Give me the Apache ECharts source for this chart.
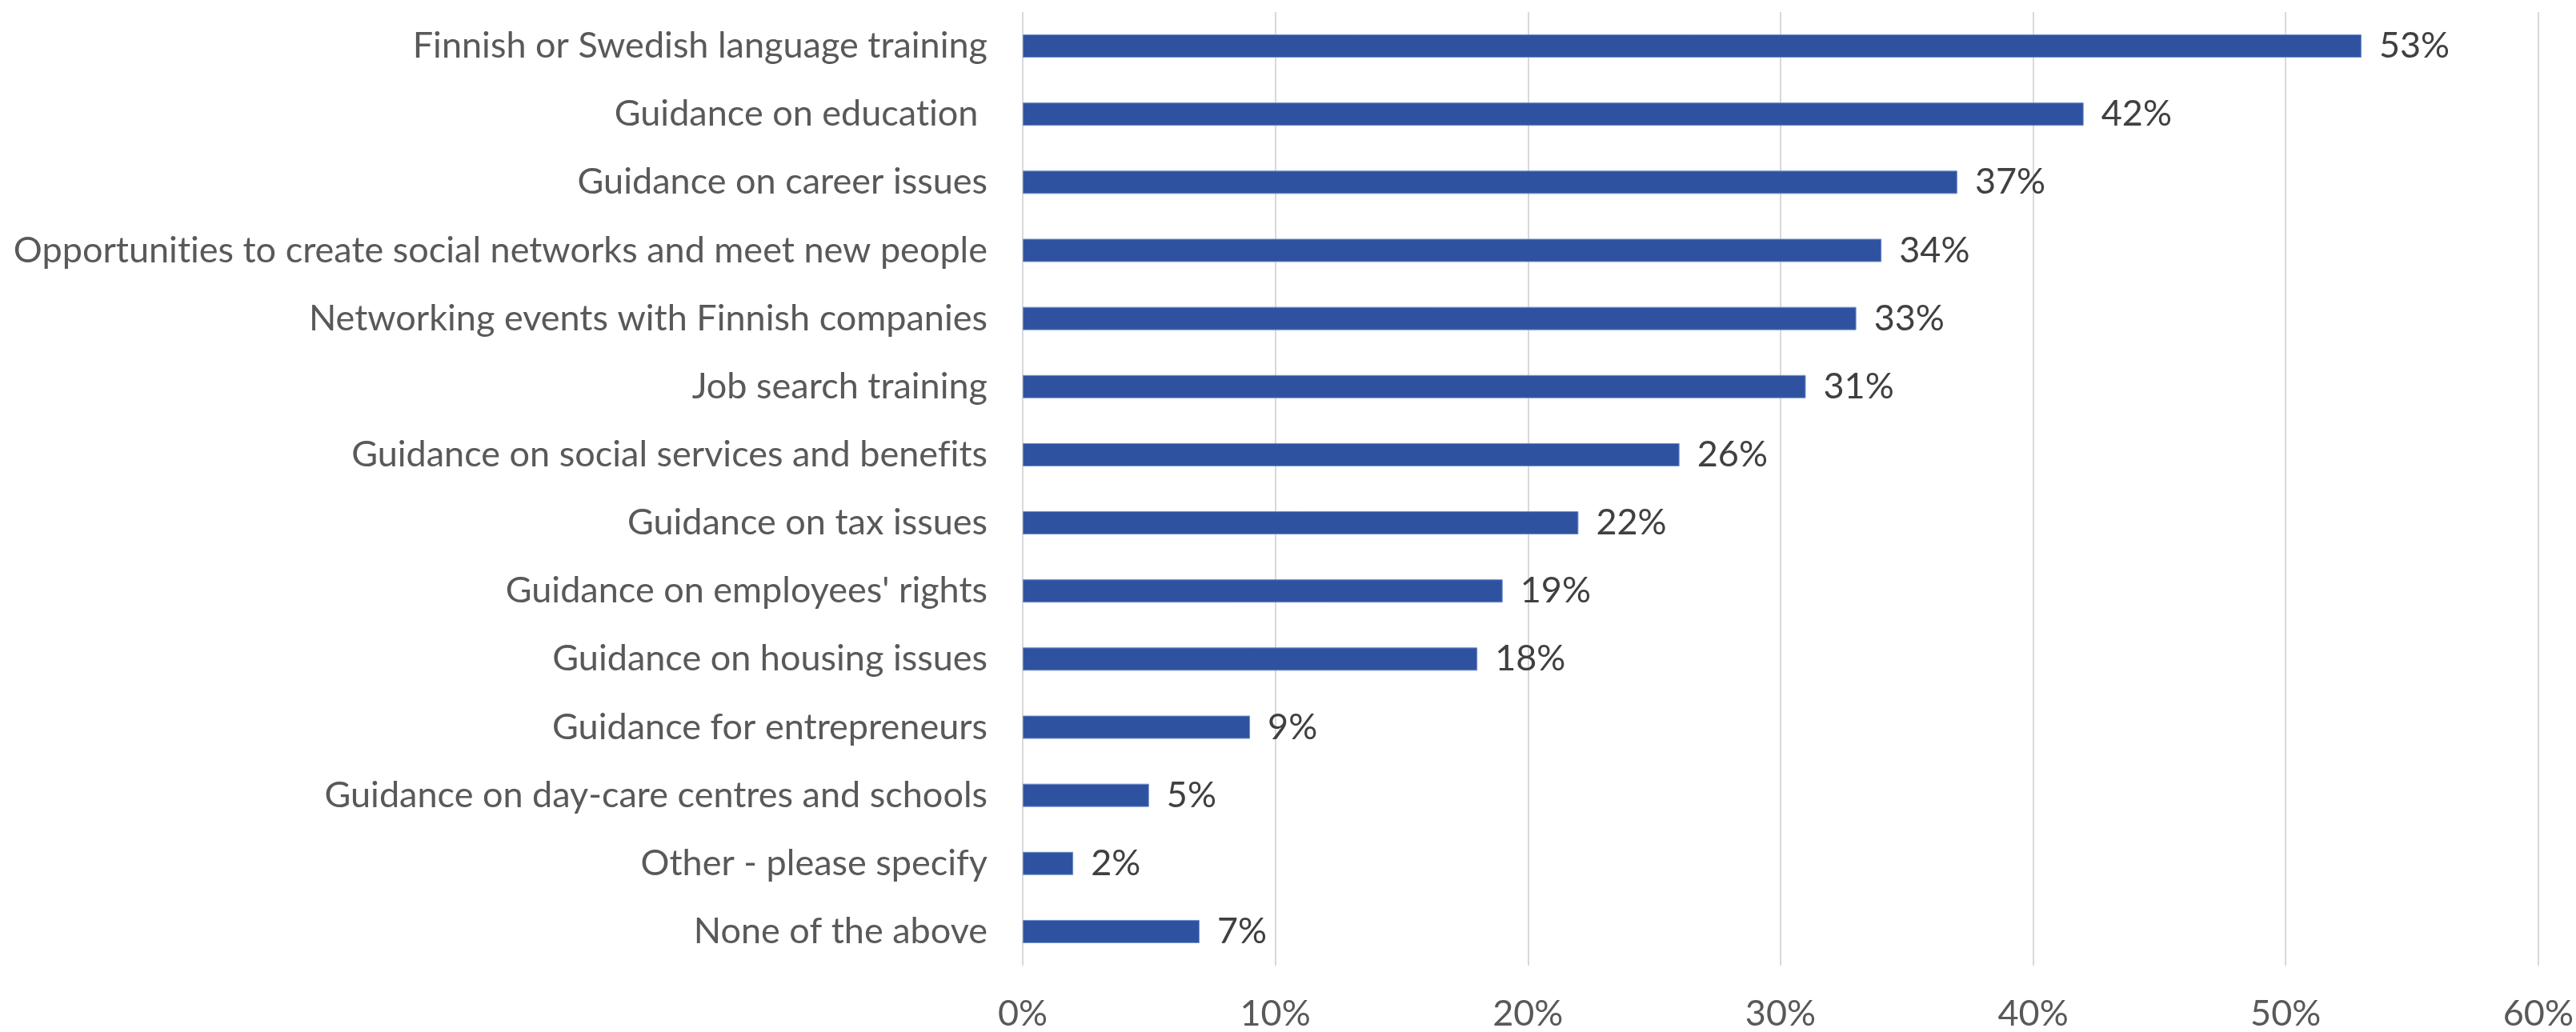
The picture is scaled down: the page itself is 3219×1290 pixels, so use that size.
<!DOCTYPE html>
<html>
<head>
<meta charset="utf-8">
<script src="https://cdn.jsdelivr.net/npm/echarts@6/dist/echarts.min.js"></script>
<style>
  html, body { margin: 0; padding: 0; background: #ffffff; }
  #chart { width: 3219px; height: 1290px; }
</style>
</head>
<body>
<div id="chart"></div>
<script>
// Services respondents would find useful (share of respondents, %)
const categories = [
  'Finnish or Swedish language training',
  'Guidance on education ',
  'Guidance on career issues',
  'Opportunities to create social networks and meet new people',
  'Networking events with Finnish companies',
  'Job search training',
  'Guidance on social services and benefits',
  'Guidance on tax issues',
  "Guidance on employees' rights",
  'Guidance on housing issues',
  'Guidance for entrepreneurs',
  'Guidance on day-care centres and schools',
  'Other - please specify',
  'None of the above'
];
const values = [53, 42, 37, 34, 33, 31, 26, 22, 19, 18, 9, 5, 2, 7];
const xTicks = { min: 0, max: 60, interval: 10 };

const FONT = 'Lato, "Open Sans", sans-serif';
const SIZE = 45;

// keep "ti"/"fi" as separate glyphs instead of ligatures
const noLig = s => s.replace(/([tf])([il])/g, '$1\u200C$2');

const chart = echarts.init(document.getElementById('chart'), null, { renderer: 'canvas' });
chart.setOption({
  animation: false,
  backgroundColor: '#ffffff',
  grid: { left: 1278, right: 46, top: 15, bottom: 82 },
  xAxis: {
    type: 'value',
    min: xTicks.min,
    max: xTicks.max,
    interval: xTicks.interval,
    axisLine: { show: false },
    axisTick: { show: false },
    splitLine: { show: true, lineStyle: { color: '#D9D9D9', width: 2 } },
    axisLabel: {
      formatter: '{value}%',
      color: '#595959',
      fontFamily: FONT,
      fontSize: SIZE,
      margin: 38
    }
  },
  yAxis: {
    type: 'category',
    inverse: true,
    data: categories,
    axisLine: { show: false },
    axisTick: { show: false },
    axisLabel: {
      color: '#595959',
      fontFamily: FONT,
      fontSize: SIZE,
      margin: 44,
      formatter: v => noLig(v)
    }
  },
  series: [{
    type: 'bar',
    data: values,
    barWidth: 29,
    itemStyle: { color: '#2F52A0', borderColor: '#6F8FCB', borderWidth: 1 },
    label: {
      show: true,
      position: 'right',
      distance: 22,
      formatter: '{c}%',
      color: '#404040',
      fontFamily: FONT,
      fontSize: SIZE
    }
  }]
});
</script>
</body>
</html>
